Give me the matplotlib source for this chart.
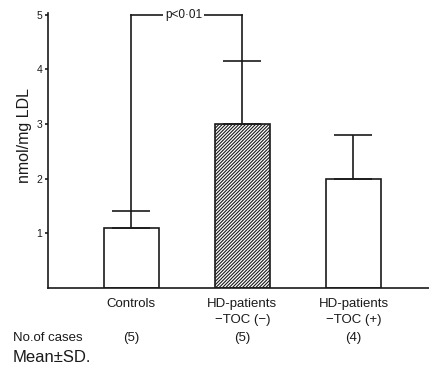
import matplotlib
matplotlib.use("Agg")
import matplotlib.pyplot as plt
from matplotlib.transforms import blended_transform_factory

plt.rcParams['font.family'] = ['Liberation Sans', 'DejaVu Sans']
plt.rcParams['hatch.linewidth'] = 0.8
plt.rcParams['hatch.color'] = '#3a3a3a'

groups = ["Controls", "HD-patients\n\u2212TOC (\u2212)", "HD-patients\n\u2212TOC (+)"]
means = [1.1, 3.0, 2.0]
sds = [0.3, 1.15, 0.8]
n_cases = [5, 5, 4]
hatches = ["", "/" * 10, ""]
yticks = [1, 2, 3, 4, 5]

ink = "#1a1a1a"
fig = plt.figure(figsize=(4.29, 3.71), dpi=100)
ax = fig.add_axes([0.112, 0.225, 0.888, 0.742])

x = list(range(len(means)))
lw = 1.2
for xi, m, h in zip(x, means, hatches):
    ax.bar(xi, m, width=0.5, facecolor="white", edgecolor=ink,
           linewidth=lw, hatch=h, zorder=2)

ax.errorbar(x, means, yerr=[[0] * len(sds), sds], fmt="none", ecolor=ink,
            elinewidth=lw, capsize=14, capthick=lw, zorder=3)

# significance bracket between controls and HD-patients TOC(-)
top = 5.0
ax.plot([x[0], x[0]], [means[0] + sds[0], top], color=ink, lw=lw, zorder=3)
ax.plot([x[1], x[1]], [means[1] + sds[1], top], color=ink, lw=lw, zorder=3)
ax.plot([x[0], x[1]], [top, top], color=ink, lw=lw, zorder=3, clip_on=False)
ax.text((x[0] + x[1]) / 2 - 0.03, top, "p<0\u00b701", ha="center", va="center",
        fontsize=8.5, color=ink,
        bbox=dict(facecolor="white", edgecolor="none", pad=1.5), zorder=4)

ax.set_xlim(-0.75, 2.68)
ax.set_ylim(0, 5.05)
ax.set_yticks(yticks)
ax.set_yticklabels([str(t) for t in yticks], fontsize=7.5, color=ink)
ax.set_xticks([])
ax.spines["top"].set_visible(False)
ax.spines["right"].set_visible(False)
ax.spines["left"].set_bounds(0, 5.03)
for s in ("left", "bottom"):
    ax.spines[s].set_linewidth(lw)
    ax.spines[s].set_color(ink)
ax.tick_params(axis="y", direction="out", length=2, width=lw, pad=2, color=ink)
ax.set_ylabel("nmol/mg LDL", fontsize=11.5, color=ink)
ax.yaxis.set_label_coords(-0.043, (287.5 - 136) / 275.2)

tr = blended_transform_factory(ax.transData, fig.transFigure)
for xi, g, n in zip(x, groups, n_cases):
    ax.text(xi, 1 - 298 / 371, g, transform=tr, ha="center", va="top",
            fontsize=9.5, linespacing=1.5, color=ink)
    ax.text(xi, 1 - 338 / 371, f"({n})", transform=tr, ha="center", va="center",
            fontsize=9.5, color=ink)

fig.text(13 / 429, 1 - 338 / 371, "No.of cases", ha="left", va="center",
         fontsize=9.5, color=ink)
fig.text(13 / 429, 1 - 358 / 371, "Mean\u00b1SD.", ha="left", va="center",
         fontsize=12, color=ink)

fig.savefig("out.png", dpi=100)
